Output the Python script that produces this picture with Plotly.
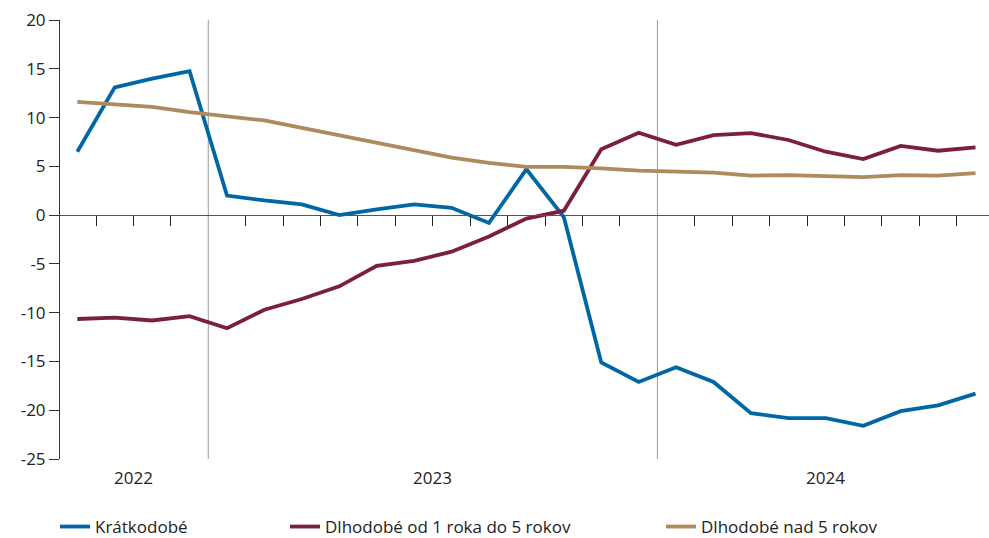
import plotly.graph_objects as go

years = ["2022", "2023", "2024"]
months_per_year = [4, 12, 9]

kratkodobe = [6.5, 13.1, 14.0, 14.75, 2.0, 1.5, 1.1, 0.0, 0.6, 1.1, 0.75, -0.8, 4.7,
              -0.2, -15.1, -17.1, -15.6, -17.1, -20.3, -20.8, -20.8, -21.6, -20.1, -19.5, -18.3]
dlh_1_5 = [-10.65, -10.5, -10.8, -10.35, -11.6, -9.7, -8.6, -7.3, -5.2, -4.7, -3.75, -2.2, -0.35,
           0.45, 6.75, 8.45, 7.2, 8.2, 8.4, 7.7, 6.5, 5.75, 7.1, 6.6, 6.95]
dlh_nad_5 = [11.6, 11.35, 11.1, 10.55, 10.1, 9.7, 8.95, 8.2, 7.45, 6.65, 5.9, 5.35, 4.95,
             4.95, 4.8, 4.55, 4.45, 4.35, 4.05, 4.1, 4.0, 3.9, 4.1, 4.05, 4.3]

names = ["Krátkodobé", "Dlhodobé od 1 roka do 5 rokov", "Dlhodobé nad 5 rokov"]
colors = ["#0067a7", "#7a1f3f", "#ae8a5e"]
series = [kratkodobe, dlh_1_5, dlh_nad_5]

y_ticks = [20, 15, 10, 5, 0, -5, -10, -15, -20, -25]

n = len(kratkodobe)
x = list(range(n))

# year boundaries / centers derived from month counts
bounds = []
centers = []
start = 0
for m in months_per_year:
    centers.append(start + (m - 1) / 2)
    start += m
    bounds.append(start - 0.5)
year_bounds = bounds[:-1]

FONT = "Open Sans, sans-serif"

fig = go.Figure()
legends = ["legend", "legend2", "legend3"]
for s, nm, c, lg in zip(series, names, colors, legends):
    fig.add_trace(go.Scatter(x=x, y=s, mode="lines", name=nm, legend=lg, showlegend=True,
                             line=dict(color=c, width=3.8), cliponaxis=False))

leg_common = dict(orientation="h", yanchor="middle", xanchor="left",
                  xref="container", yref="container", y=1 - 527 / 538,
                  font=dict(family=FONT, size=17, color="#222"),
                  bgcolor="rgba(0,0,0,0)", borderwidth=0, itemwidth=30)

ymin, ymax = -25, 20
zero_pos = (0 - ymin) / (ymax - ymin)

fig.update_layout(
    width=989, height=538,
    showlegend=True,
    margin=dict(l=60, r=0, t=20, b=79),
    paper_bgcolor="white", plot_bgcolor="white",
    font=dict(family=FONT, size=17, color="#222"),
    legend=dict(leg_common, x=55 / 989),
    legend2=dict(leg_common, x=285 / 989),
    legend3=dict(leg_common, x=661 / 989),
    xaxis=dict(range=[-0.462, 24.36], anchor="free", position=zero_pos, automargin=False,
               showgrid=False, zeroline=False, showline=True, linecolor="#555", linewidth=1,
               ticks="outside", ticklen=10, tickcolor="#222", tickwidth=1,
               tickvals=[i + 0.5 for i in range(n - 1) if (i + 0.5) not in year_bounds],
               showticklabels=False),
    yaxis=dict(range=[ymin, ymax], tickvals=y_ticks, ticktext=[str(v) for v in y_ticks],
               automargin=False,
               showgrid=False, zeroline=False, showline=True, linecolor="#333", linewidth=1,
               ticks="outside", ticklen=10, tickcolor="#333", tickwidth=1,
               tickfont=dict(family=FONT, size=17, color="#222")),
)

for b in year_bounds:
    fig.add_shape(type="line", x0=b, x1=b, xref="x", yref="paper", y0=0, y1=1,
                  line=dict(color="#9a9a9a", width=1), layer="below")

for yr, cx in zip(years, centers):
    fig.add_annotation(x=cx, y=0, xref="x", yref="paper", text=yr, showarrow=False,
                       yanchor="top", yshift=-5,
                       font=dict(family=FONT, size=17, color="#222"))

fig.write_html("out.html", post_script="document.body.style.margin='0';",
               config={"displayModeBar": False})
